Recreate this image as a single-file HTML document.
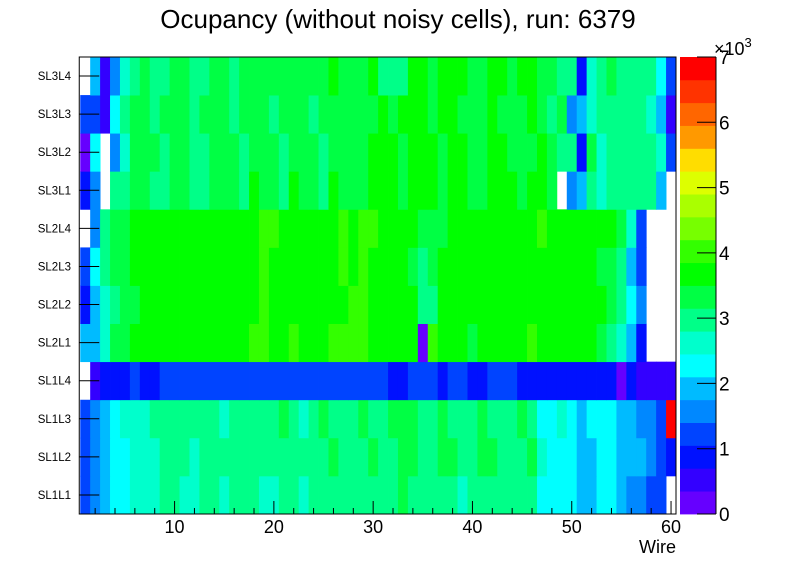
<!DOCTYPE html>
<html><head><meta charset="utf-8"><style>
body{margin:0;background:#fff;}
svg{display:block;font-family:"Liberation Sans",Arial,sans-serif;}
</style></head><body>
<svg id="chart" width="796" height="572" viewBox="0 0 796 572" xmlns="http://www.w3.org/2000/svg">
<rect width="796" height="572" fill="#fff"/>
<text x="398" y="28" font-size="26" text-anchor="middle">Ocupancy (without noisy cells), run: 6379</text>
<g id="cells"></g>
<g id="axes"></g>
<g id="cbar"></g>
<text x="676" y="553" font-size="18" text-anchor="end">Wire</text>
</svg>
<script>
const layers = ["SL1L1","SL1L2","SL1L3","SL1L4","SL2L1","SL2L2","SL2L3","SL2L4","SL3L1","SL3L2","SL3L3","SL3L4"];
const xTicks = [10,20,30,40,50,60];
const zTicks = [0,1,2,3,4,5,6,7];
// occupancy in thousands, wires 1..60, one array per layer
const rowSL1L1 = [1.2,1.6,1.9,2.3,2.3,2.6,2.6,2.6,3.0,3.0, 2.6,2.6,3.0,3.0,2.6,3.0,3.0,3.0,2.6,2.6, 3.0,3.0,2.6,3.0,3.0,3.0,3.0,3.0,3.0,3.0, 3.0,3.0,3.3,3.0,3.0,3.0,3.0,3.0,2.6,3.0, 3.0,3.0,3.0,3.0,3.0,3.0,2.3,2.3,2.3,2.3, 1.9,1.9,2.3,2.3,1.9,1.6,1.6,1.2,1.2,0];
const rowSL1L2 = [1.2,1.6,1.9,2.3,2.3,2.6,2.6,2.6,3.0,3.0, 3.0,2.6,3.0,3.0,3.0,3.0,3.0,3.0,3.0,3.0, 3.0,3.0,3.0,3.0,3.0,3.3,3.0,3.0,3.0,3.3, 3.0,3.0,3.3,3.3,3.0,3.0,3.3,3.3,3.0,3.0, 3.3,3.3,3.0,3.0,3.0,3.3,2.6,2.3,2.3,2.3, 1.9,1.9,2.3,2.3,1.9,1.9,1.9,1.6,1.2,0.9];
const rowSL1L3 = [1.2,1.6,1.9,2.3,2.6,2.6,2.6,3.0,3.0,3.0, 3.0,3.0,3.0,3.0,2.6,3.0,3.0,3.0,3.0,3.0, 3.3,3.0,2.6,3.0,3.3,3.0,3.0,3.0,3.3,3.0, 3.0,3.3,3.3,3.3,3.0,3.0,3.3,3.0,3.0,3.0, 3.3,3.0,3.0,3.0,3.3,3.0,2.3,2.3,2.6,2.3, 1.9,2.3,2.3,2.3,1.9,1.9,1.6,1.6,1.2,6.9];
const rowSL1L4 = [0,0.5,0.9,0.9,0.9,1.2,0.9,0.9,1.2,1.2, 1.2,1.2,1.2,1.2,1.2,1.2,1.2,1.2,1.2,1.2, 1.2,1.2,1.2,1.2,1.2,1.2,1.2,1.2,1.2,1.2, 1.2,0.9,0.9,1.2,1.2,1.2,0.9,1.2,1.2,0.9, 0.9,1.2,1.2,1.2,0.9,0.9,0.9,0.9,0.9,0.9, 0.9,0.9,0.9,0.9,0.2,0.9,0.5,0.5,0.5,0.5];
const rowSL2L1 = [1.9,1.9,2.6,3.3,3.3,3.7,3.7,3.7,3.7,3.7, 3.7,3.7,3.7,3.7,3.7,3.7,3.7,4.0,4.0,3.7, 3.7,4.0,3.7,3.7,3.7,4.0,4.0,4.0,4.0,3.7, 3.7,3.7,3.7,3.7,0.2,4.0,3.7,3.7,3.7,3.3, 3.7,3.7,3.7,3.7,3.7,4.0,3.7,3.7,3.7,3.7, 3.7,3.7,3.3,3.0,2.6,1.9,0.9,0,0,0];
const rowSL2L2 = [0.9,1.9,2.6,3.0,3.3,3.3,3.7,3.7,3.7,3.7, 3.7,3.7,3.7,3.7,3.7,3.7,3.7,3.7,4.0,3.7, 3.7,3.7,3.7,3.7,3.7,3.7,3.7,4.0,4.0,3.7, 3.7,3.7,3.7,3.7,3.0,3.0,3.7,3.7,3.7,3.7, 3.7,3.7,3.7,3.7,3.7,3.7,3.7,3.7,3.7,3.7, 3.7,3.7,3.7,3.3,3.0,2.3,1.6,0,0,0];
const rowSL2L3 = [1.2,2.3,3.0,3.3,3.3,3.7,3.7,3.7,3.7,3.7, 3.7,3.7,3.7,3.7,3.7,3.7,3.7,3.7,4.0,3.7, 3.7,3.7,3.7,3.7,3.7,3.7,4.0,3.7,4.0,3.7, 3.7,3.7,3.7,3.3,3.0,3.3,3.7,3.7,3.7,3.7, 3.7,3.7,3.7,3.7,3.7,3.7,3.7,3.7,3.7,3.7, 3.7,3.7,3.3,3.3,3.0,1.9,1.2,0,0,0];
const rowSL2L4 = [0,1.6,3.0,3.3,3.3,3.7,3.7,3.7,3.7,3.7, 3.7,3.7,3.7,3.7,3.7,3.7,3.7,3.7,4.0,4.0, 3.7,3.7,3.7,3.7,3.7,3.7,4.0,3.7,4.0,4.0, 3.7,3.7,3.7,3.7,3.3,3.3,3.3,3.7,3.7,3.7, 3.7,3.7,3.7,3.7,3.7,3.7,4.0,3.7,3.7,3.7, 3.7,3.7,3.7,3.7,3.3,2.6,1.2,0,0,0];
const rowSL3L1 = [0.9,1.6,0,3.0,3.0,3.3,3.3,3.0,3.0,3.3, 3.3,3.0,3.0,3.3,3.3,3.3,3.0,3.7,3.3,3.3, 3.0,3.7,3.3,3.3,3.0,3.7,3.3,3.3,3.3,3.7, 3.7,3.7,3.3,3.7,3.7,3.7,3.3,3.7,3.7,3.3, 3.3,3.7,3.7,3.7,3.3,3.7,3.7,3.3,0,1.6, 1.9,3.0,2.6,3.0,3.0,3.0,3.0,3.0,1.9,0];
const rowSL3L2 = [0.2,2.3,0,1.6,2.6,3.3,3.3,3.3,3.0,3.3, 3.3,3.0,3.0,3.3,3.3,3.3,3.0,3.3,3.3,3.3, 3.0,3.3,3.3,3.3,3.0,3.3,3.3,3.3,3.3,3.7, 3.7,3.7,3.3,3.7,3.7,3.7,3.3,3.7,3.7,3.3, 3.3,3.7,3.7,3.3,3.3,3.3,3.7,3.3,3.0,3.0, 0.9,3.3,2.6,3.0,3.0,3.0,3.0,3.0,2.6,1.2];
const rowSL3L3 = [1.2,1.2,0.5,2.3,3.0,3.3,3.3,3.0,3.3,3.3, 3.3,3.0,3.3,3.3,3.3,3.0,3.3,3.3,3.3,3.0, 3.3,3.3,3.3,3.0,3.3,3.3,3.3,3.3,3.3,3.3, 3.7,3.3,3.7,3.7,3.7,3.3,3.7,3.7,3.3,3.3, 3.3,3.7,3.3,3.3,3.3,3.7,3.3,3.0,3.3,1.6, 1.9,2.6,3.0,3.0,3.0,3.0,3.0,2.6,1.9,0.5];
const rowSL3L4 = [0,1.9,0.5,1.6,2.6,3.0,3.3,3.0,3.0,3.3, 3.3,3.0,3.0,3.3,3.3,3.0,3.3,3.3,3.3,3.3, 3.3,3.3,3.3,3.3,3.3,3.7,3.3,3.3,3.3,3.7, 3.0,3.0,3.0,3.7,3.7,3.3,3.7,3.7,3.7,3.3, 3.3,3.7,3.7,3.3,3.7,3.7,3.3,3.3,3.0,3.0, 0.9,2.6,3.0,3.3,3.0,3.0,3.0,3.0,2.3,1.2];
const rows = [rowSL1L1,rowSL1L2,rowSL1L3,rowSL1L4,rowSL2L1,rowSL2L2,rowSL2L3,rowSL2L4,rowSL3L1,rowSL3L2,rowSL3L3,rowSL3L4];

const palette = ["#6600ff","#3300ff","#0011ff","#0044ff","#0088ff","#00bbff","#00ffff","#00ffcc","#00ff88","#00ff44","#00ff00","#33ff00","#77ff00","#aaff00","#ddff00","#ffdd00","#ff9900","#ff6600","#ff3300","#ff0000"];
const NS="http://www.w3.org/2000/svg";
const X0=80.25, X1=676, Y0=514, Y1=57, ZMAX=7;
const xs = w => X0 + (w-0.5)*(X1-X0)/60;
const ys = i => Y0 - i*(Y0-Y1)/layers.length;
const zs = z => Y0 - z*(Y0-Y1)/ZMAX;
const col = v => palette[Math.max(0,Math.min(19,Math.floor(v/(ZMAX/20))))];
function mk(tag, attrs, parent){const e=document.createElementNS(NS,tag);for(const k in attrs)e.setAttribute(k,attrs[k]);parent.appendChild(e);return e;}

const gc=document.getElementById('cells');
rows.forEach((r,i)=>{r.forEach((v,j)=>{
  if(v<=0) return;
  const x=xs(j+0.5), x2=xs(j+1.5), y=ys(i+1), y2=ys(i);
  const e=mk('rect',{x:x,y:y,width:x2-x+0.4,height:y2-y+0.4,fill:col(v)},gc);
  
  
});});

const ga=document.getElementById('axes');
const fr=mk('rect',{x:X0-1,y:Y1,width:X1-X0+1,height:Y0-Y1,fill:'none',stroke:'#000','stroke-width':1},ga);


for(let w=2; w<=60; w+=2){
  const major = w%10===0;
  const t=mk('line',{x1:xs(w),x2:xs(w),y1:Y0,y2:Y0-(major?13:6),stroke:'#000'},ga);
  
  
}
xTicks.forEach(w=>{
  const t=mk('text',{x:xs(w),y:533,'font-size':18,'text-anchor':'middle'},ga);
  t.textContent=w;
  
  
});
layers.forEach((n,i)=>{
  const yc=(ys(i)+ys(i+1))/2;
  const t=mk('line',{x1:X0-1,x2:X0+19,y1:yc,y2:yc,stroke:'#000'},ga);
  
  
  const l=mk('text',{x:71,y:yc+4,'font-size':11.5,'text-anchor':'end'},ga);
  l.textContent=n;
  
  
});

const gb=document.getElementById('cbar');
palette.forEach((c,k)=>{
  const z0=k*ZMAX/20, z1=(k+1)*ZMAX/20;
  const e=mk('rect',{x:680,y:zs(z1),width:36,height:zs(z0)-zs(z1)+0.4,fill:c},gb);
  
  
});
const bf=mk('line',{x1:716,x2:716,y1:Y1,y2:Y0,stroke:'#000'},gb);


zTicks.forEach(z=>{
  const t=mk('line',{x1:697,x2:716,y1:zs(z),y2:zs(z),stroke:'#000'},gb);
  
  
  const l=mk('text',{x:719,y:zs(z)+7,'font-size':19},gb);
  l.textContent=z;
  
  
});
const ex=mk('text',{x:714,y:55,'font-size':18},gb);
ex.textContent='×10';


const ex3=mk('tspan',{dy:-8,'font-size':13},ex);
ex3.textContent='3';
</script>
</body></html>
